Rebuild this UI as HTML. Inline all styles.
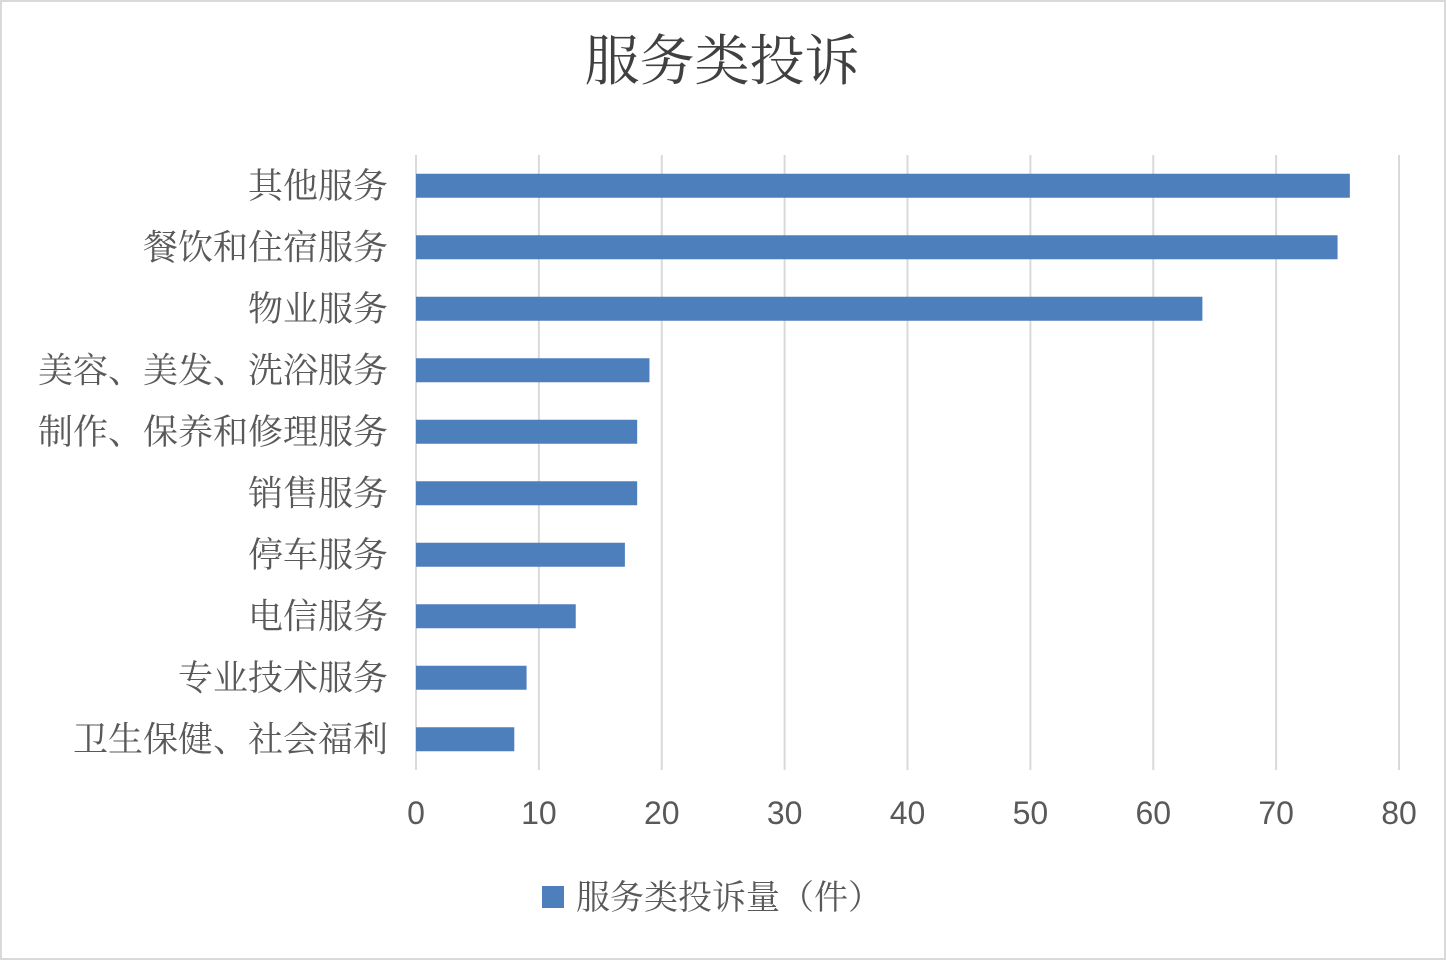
<!DOCTYPE html>
<html><head><meta charset="utf-8"><style>
html,body{margin:0;padding:0;background:#fff;}
svg{display:block;}
</style></head><body>
<svg width="1446" height="960" xmlns="http://www.w3.org/2000/svg" id="chart">
<rect x="1" y="1" width="1444" height="958" fill="#fff" stroke="#d9d9d9" stroke-width="2"/>
<text x="722" y="80" text-anchor="middle" font-family="'Liberation Serif','Noto Serif CJK SC',serif" font-size="55" fill="#404040">服务类投诉</text>
<g id="grid"></g>
<g id="bars"></g>
<g id="ylabels"></g>
<g id="xlabels"></g>
<rect x="542" y="886" width="22" height="22" fill="#4e7fbd"/>
<text x="576" y="909" font-family="'Liberation Serif','Noto Serif CJK SC',serif" font-size="34" fill="#595959">服务类投诉量（件）</text>
</svg>
<script>
const categories = ["其他服务","餐饮和住宿服务","物业服务","美容、美发、洗浴服务","制作、保养和修理服务","销售服务","停车服务","电信服务","专业技术服务","卫生保健、社会福利"];
const values = [76,75,64,19,18,18,17,13,9,8];
const ticks = [0,10,20,30,40,50,60,70,80];
const NS="http://www.w3.org/2000/svg";
const x0=416,x1=1399,xmax=80,plotTop=155,plotBottom=770;
const band=(plotBottom-plotTop)/categories.length;
const xs=v=>x0+(x1-x0)*v/xmax;
const ys=i=>plotTop+band*(i+0.5);
function mk(tag,attrs,parent){const e=document.createElementNS(NS,tag);for(const k in attrs)e.setAttribute(k,attrs[k]);document.getElementById(parent).appendChild(e);return e;}
ticks.forEach(t=>{
  const l=mk('line',{x1:xs(t),x2:xs(t),y1:plotTop,y2:plotBottom,stroke:'#d9d9d9','stroke-width':2},'grid');
  
  
  const tx=mk('text',{x:xs(t),y:824,'text-anchor':'middle','font-family':'Liberation Sans, sans-serif','font-size':32,fill:'#595959'},'xlabels');
  tx.textContent=t;
  
  
});
categories.forEach((c,i)=>{
  const r=mk('rect',{x:x0,y:ys(i)-12,width:xs(values[i])-x0,height:24,fill:'#4e7fbd'},'bars');
  
  
  const t=mk('text',{x:388,y:ys(i)+12,'text-anchor':'end','font-family':"'Liberation Serif','Noto Serif CJK SC',serif",'font-size':35,fill:'#595959'},'ylabels');
  t.textContent=c;
  
  
});
</script>
</body></html>
